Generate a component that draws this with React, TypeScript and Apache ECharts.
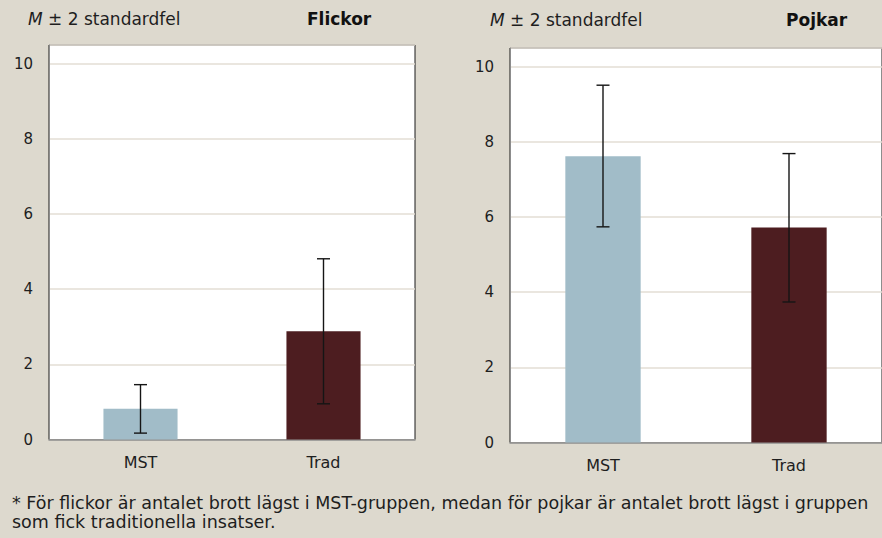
import React, { useEffect, useRef } from "react";
import * as echarts from "echarts";

const categories = ["MST", "Trad"];
const barColors = ["#A1BCC8", "#4D1D20"];

const girlsMean = [0.82, 2.88];
const girlsLow = [0.17, 0.95];
const girlsHigh = [1.46, 4.81];

const boysMean = [7.62, 5.72];
const boysLow = [5.74, 3.74];
const boysHigh = [9.51, 7.69];

const yMin = 0;
const yMax = 10.5;
const yInterval = 2;

const headerLeft = "{i|M} ± 2 standardfel";
const titleGirls = "Flickor";
const titleBoys = "Pojkar";
const footnote1 =
  "* För flickor är antalet brott lägst i MST-gruppen, medan för pojkar är antalet brott lägst i gruppen";
const footnote2 = "som fick traditionella insatser.";

const FONT = "DejaVu Sans";
const TEXT = "#1e1e1e";

function errorRender(params: any, api: any) {
  const x = api.value(0);
  const lo = api.value(1);
  const hi = api.value(2);
  const top = api.coord([x, hi]);
  const bot = api.coord([x, lo]);
  const hw = 6.5;
  const style = { stroke: "#151515", lineWidth: 1.4 };
  return {
    type: "group",
    children: [
      { type: "line", shape: { x1: top[0], y1: top[1], x2: bot[0], y2: bot[1] }, style },
      { type: "line", shape: { x1: top[0] - hw, y1: top[1], x2: top[0] + hw, y2: top[1] }, style },
      { type: "line", shape: { x1: bot[0] - hw, y1: bot[1], x2: bot[0] + hw, y2: bot[1] }, style },
    ],
  };
}

export default function App() {
  const ref = useRef<HTMLDivElement>(null);
  useEffect(() => {
    if (!ref.current) return;
    const chart = echarts.init(ref.current, null, { renderer: "svg" });

    const yAxisBase = (gridIndex: number) => ({
      type: "value",
      gridIndex,
      min: yMin,
      max: yMax,
      interval: yInterval,
      axisLine: { show: true, lineStyle: { color: "#8c8c8c", width: 1 } },
      axisTick: { show: false },
      axisLabel: {
        color: TEXT,
        fontFamily: FONT,
        fontSize: 15,
        margin: 16,
        formatter: (v: number) => (v > 10 ? "" : String(v)),
      },
      splitLine: { show: true, lineStyle: { color: "#E3DED4", width: 1.5 } },
    });
    const xAxisBase = (gridIndex: number) => ({
      type: "category",
      gridIndex,
      data: categories,
      axisLine: { show: true, lineStyle: { color: "#8c8c8c", width: 1.5 } },
      axisTick: { show: false },
      axisLabel: { color: TEXT, fontFamily: FONT, fontSize: 16, margin: 15 },
    });

    const barData = (vals: number[]) =>
      vals.map((v, i) => ({ value: v, itemStyle: { color: barColors[i] } }));
    const errData = (lo: number[], hi: number[]) => categories.map((_, i) => [i, lo[i], hi[i]]);

    const richI = { i: { fontStyle: "italic", fontSize: 17, fontFamily: FONT, fill: TEXT } };

    chart.setOption({
      animation: false,
      backgroundColor: "#DDD9CE",
      textStyle: { fontFamily: FONT },
      grid: [
        { left: 49, top: 45, width: 366, height: 394.5, show: true, backgroundColor: "#ffffff", borderColor: "#1a1a1a", borderWidth: 1 },
        { left: 510, top: 48, width: 379, height: 394.5, show: true, backgroundColor: "#ffffff", borderColor: "#1a1a1a", borderWidth: 1 },
      ],
      xAxis: [xAxisBase(0), xAxisBase(1)],
      yAxis: [yAxisBase(0), yAxisBase(1)],
      series: [
        { type: "bar", xAxisIndex: 0, yAxisIndex: 0, barWidth: "40.5%", data: barData(girlsMean) },
        { type: "custom", xAxisIndex: 0, yAxisIndex: 0, renderItem: errorRender, data: errData(girlsLow, girlsHigh), z: 5 },
        { type: "bar", xAxisIndex: 1, yAxisIndex: 1, barWidth: "40.5%", data: barData(boysMean) },
        { type: "custom", xAxisIndex: 1, yAxisIndex: 1, renderItem: errorRender, data: errData(boysLow, boysHigh), z: 5 },
      ],
      graphic: [
        {
          type: "text", left: 28, top: 10,
          style: { text: headerLeft, fill: TEXT, font: `17px "${FONT}"`, rich: richI },
        },
        {
          type: "text", left: 307, top: 10,
          style: { text: titleGirls, fill: "#111", font: `bold 17px "${FONT}"` },
        },
        {
          type: "text", left: 490, top: 11,
          style: { text: headerLeft, fill: TEXT, font: `17px "${FONT}"`, rich: richI },
        },
        {
          type: "text", left: 786, top: 11,
          style: { text: titleBoys, fill: "#111", font: `bold 17px "${FONT}"` },
        },
        {
          type: "text", left: 12, top: 493,
          style: { text: footnote1 + "\n" + footnote2, fill: TEXT, font: `17.5px "${FONT}"`, lineHeight: 19 },
        },
      ],
    });
    return () => chart.dispose();
  }, []);
  return (
    <div
      ref={ref}
      style={{ position: "fixed", left: 0, top: 0, width: 882, height: 538 }}
    />
  );
}
